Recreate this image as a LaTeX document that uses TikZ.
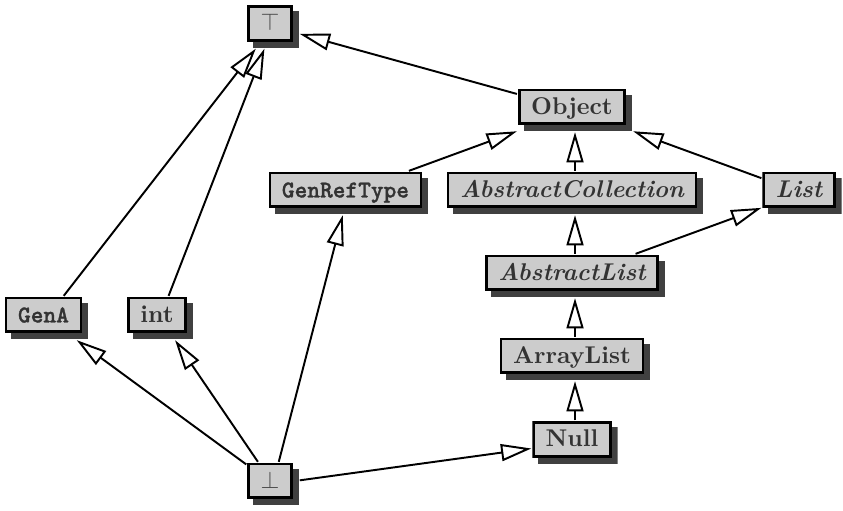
\documentclass[tikz,border=0pt]{standalone}
\usepackage{amssymb}
\usepackage{amsmath}
\usepackage{fontspec}
\usetikzlibrary{arrows.meta}

\newfontfamily\codefont{lmmonolt10-bold.otf}[FakeBold=1.2]

\definecolor{boxfill}{gray}{0.8}
\definecolor{boxshade}{gray}{0.25}
\definecolor{boxtext}{gray}{0.2}

\begin{document}
\begin{tikzpicture}[x=0.413pt, y=-0.413pt,
	>={Triangle[length=12.5pt,width=7pt,fill=white]},
	cls/.style={rectangle, inner xsep=5.5pt, inner ysep=2.5pt, outer sep=0.4pt,
		text height=8.1pt, text depth=4.4pt, text=boxtext, font=\bfseries,
		execute at end node={\hspace*{2.5pt}},
		path picture={
			\fill[boxshade] ([xshift=2.5pt]path picture bounding box.south west) rectangle ([yshift=-2.5pt]path picture bounding box.north east);
			\draw[fill=boxfill, line width=1.1pt] ([shift={(0.55pt,3.05pt)}]path picture bounding box.south west) rectangle ([shift={(-3.05pt,-0.55pt)}]path picture bounding box.north east);
		}},
	abstr/.style={cls, font=\bfseries\itshape},
	code/.style={cls, font=\codefont},
	lat/.style={cls, font=\normalfont, text=black!70},
	isa/.style={->, line width=0.8pt}]
	\useasboundingbox (0,0) rectangle (843,510);

	%nodes
	\node[lat]   (top)        at (273,26.5)  {$\top$};
	\node[cls]   (object)     at (575,110)   {Object};
	\node[code]  (genreftype) at (348.5,193) {GenRefType};
	\node[abstr] (abscoll)    at (575,193)   {AbstractCollection};
	\node[abstr] (list)       at (802,193)   {List};
	\node[abstr] (abslist)    at (575,276)   {AbstractList};
	\node[cls]   (arraylist)  at (575,359)   {ArrayList};
	\node[cls]   (null)       at (575,442.5) {Null};
	\node[code]  (gena)       at (46.5,318)  {GenA};
	\node[cls]   (int)        at (160,318)   {int};
	\node[lat]   (bot)        at (273,484)   {$\bot$};

	%arrows
	\draw[isa] (gena)       -- (top);
	\draw[isa] (int)        -- (top);
	\draw[isa] (object)     -- (top);
	\draw[isa] (genreftype) -- (object);
	\draw[isa] (abscoll)    -- (object);
	\draw[isa] (list)       -- (object);
	\draw[isa] (abslist)    -- (abscoll);
	\draw[isa] (abslist)    -- (list);
	\draw[isa] (arraylist)  -- (abslist);
	\draw[isa] (null)       -- (arraylist);
	\draw[isa] (bot)        -- (gena);		%bottom, to the left
	\draw[isa] (bot)        -- (int);
	\draw[isa] (bot)        -- (genreftype);
	\draw[isa] (bot)        -- (null);		%bottom, to the right
\end{tikzpicture}
\end{document}
